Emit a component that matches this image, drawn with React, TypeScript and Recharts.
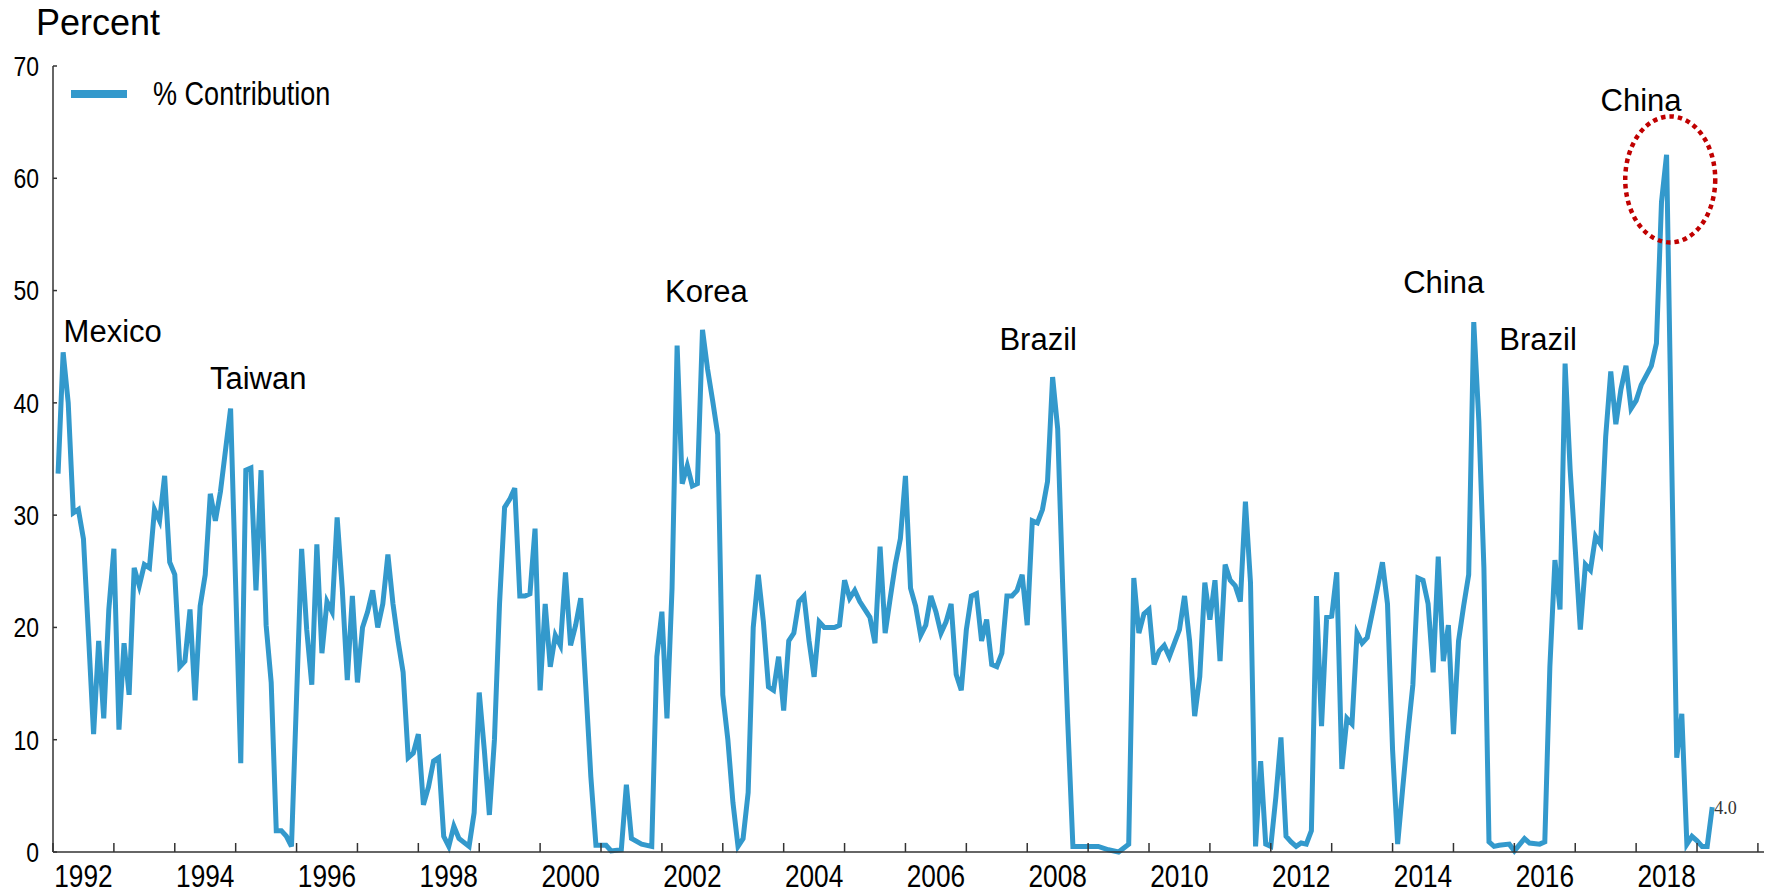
import React from "react";
import {
  LineChart,
  Line,
  XAxis,
  YAxis,
  Legend,
  ReferenceDot,
} from "recharts";

// months since Jan 1992 for each point
const monthIdx = [
  1, 2, 3, 4, 5, 6, 7, 8, 9, 10,
  11, 12, 13, 14, 15, 16, 17, 18, 19, 20,
  21, 22, 23, 24, 25, 26, 27, 28, 29, 30,
  31, 32, 33, 35, 37, 38, 39, 40, 41, 42,
  43, 44, 45, 46, 47, 49, 50, 51, 52, 53,
  54, 55, 56, 57, 58, 59, 60, 61, 62, 63,
  64, 65, 66, 67, 68, 69, 70, 71, 72, 73,
  74, 75, 76, 77, 78, 79, 80, 82, 83, 84,
  85, 86, 87, 88, 89, 90, 91, 92, 93, 94,
  95, 96, 97, 98, 99, 100, 101, 102, 103, 104,
  105, 106, 107, 109, 110, 112, 113, 114, 116, 118,
  119, 120, 121, 122, 123, 124, 125, 126, 127, 128,
  129, 130, 131, 132, 133, 134, 135, 136, 137, 138,
  139, 140, 141, 142, 143, 144, 145, 146, 147, 148,
  149, 150, 151, 152, 154, 155, 156, 157, 158, 159,
  161, 162, 163, 164, 165, 166, 167, 168, 169, 170,
  171, 172, 173, 174, 175, 176, 177, 178, 179, 180,
  181, 182, 183, 184, 185, 186, 187, 188, 189, 190,
  191, 192, 193, 194, 195, 196, 197, 198, 199, 200,
  201, 204, 206, 208, 210, 212, 213, 214, 215, 216,
  217, 218, 219, 220, 222, 223, 224, 225, 226, 227,
  228, 229, 230, 231, 232, 233, 234, 235, 236, 237,
  238, 239, 240, 241, 242, 243, 244, 245, 246, 247,
  248, 249, 250, 251, 252, 253, 254, 255, 256, 257,
  258, 259, 261, 262, 263, 264, 265, 266, 267, 268,
  269, 270, 271, 272, 273, 274, 275, 276, 277, 278,
  279, 280, 281, 282, 283, 284, 285, 287, 288, 290,
  291, 293, 294, 295, 296, 297, 298, 299, 300, 301,
  302, 303, 304, 305, 306, 307, 308, 309, 310, 311,
  312, 313, 315, 316, 317, 318, 320, 321, 322, 323,
  324, 325, 326, 327,
];

const contribution = [
  33.7, 44.5, 40.0, 30.2, 30.5, 27.9, 19.3, 10.5, 18.8, 11.9,
  21.6, 27.0, 10.9, 18.6, 14.0, 25.3, 23.7, 25.6, 25.3, 30.5,
  29.5, 33.5, 25.8, 24.7, 16.5, 17.0, 21.6, 13.5, 21.9, 24.7,
  31.9, 29.5, 32.1, 39.5, 7.9, 34.0, 34.2, 23.3, 34.0, 20.2,
  15.1, 1.9, 1.9, 1.4, 0.5, 27.0, 19.8, 14.9, 27.4, 17.7,
  22.3, 21.4, 29.8, 23.5, 15.3, 22.8, 15.1, 20.0, 21.4, 23.3,
  20.0, 22.1, 26.5, 22.1, 18.8, 16.0, 8.4, 8.8, 10.5, 4.2,
  5.8, 8.1, 8.4, 1.4, 0.5, 2.3, 1.2, 0.5, 3.5, 14.2,
  9.1, 3.3, 10.0, 22.1, 30.7, 31.4, 32.4, 22.8, 22.8, 23.0,
  28.8, 14.4, 22.1, 16.5, 19.3, 18.4, 24.9, 18.4, 20.2, 22.6,
  14.7, 6.7, 0.6, 0.6, 0.1, 0.2, 6.0, 1.2, 0.7, 0.5,
  17.4, 21.4, 11.9, 23.5, 45.1, 32.8, 34.4, 32.6, 32.8, 46.5,
  43.0, 40.2, 37.2, 14.0, 10.0, 4.4, 0.5, 1.2, 5.3, 20.0,
  24.7, 20.5, 14.7, 14.4, 17.4, 12.6, 18.8, 19.5, 22.3, 22.8,
  18.8, 15.6, 20.5, 20.0, 20.0, 20.2, 24.2, 22.6, 23.3, 22.3,
  20.9, 18.6, 27.2, 19.5, 22.6, 25.6, 27.9, 33.5, 23.5, 21.9,
  19.3, 20.2, 22.8, 21.4, 19.5, 20.5, 22.1, 15.8, 14.4, 19.8,
  22.8, 23.0, 18.8, 20.7, 16.7, 16.5, 17.7, 22.8, 22.8, 23.3,
  24.7, 20.2, 29.5, 29.3, 30.5, 33.0, 42.3, 37.7, 23.5, 11.4,
  0.5, 0.5, 0.5, 0.2, 0.0, 0.7, 24.4, 19.5, 21.2, 21.6,
  16.7, 17.9, 18.4, 17.4, 19.8, 22.8, 18.8, 12.1, 15.6, 24.0,
  20.7, 24.2, 17.0, 25.6, 24.2, 23.7, 22.3, 31.2, 24.0, 0.5,
  8.1, 0.7, 0.5, 4.9, 10.2, 1.4, 0.9, 0.5, 0.8, 0.7,
  1.9, 22.8, 11.2, 20.9, 21.0, 24.9, 7.4, 11.9, 11.4, 19.5,
  18.6, 19.1, 23.5, 25.8, 22.1, 9.1, 0.7, 5.7, 10.5, 14.9,
  24.4, 24.2, 22.1, 16.0, 26.3, 17.0, 20.2, 10.5, 18.8, 21.9,
  24.7, 47.2, 38.4, 25.3, 0.9, 0.5, 0.6, 0.7, 0.1, 1.2,
  0.8, 0.7, 0.9, 16.5, 26.0, 21.6, 43.5, 34.0, 27.0, 19.8,
  25.6, 25.1, 28.1, 27.4, 37.0, 42.8, 38.1, 41.2, 43.3, 39.5,
  40.2, 41.6, 43.3, 45.3, 57.9, 62.1, 8.4, 12.3, 0.7, 1.4,
  1.0, 0.5, 0.5, 4.0,
];

const yTicks = [0, 10, 20, 30, 40, 50, 60, 70];
const yearTicks = Array.from({ length: 29 }, (_, i) => 1992 + i); // 1992..2020
const labelYears = [1992, 1994, 1996, 1998, 2000, 2002, 2004, 2006, 2008, 2010, 2012, 2014, 2016, 2018];

// country call-outs (label anchor in years / percent)
const calloutNames = ["Mexico", "Taiwan", "Korea", "Brazil", "China", "Brazil", "China"];
const calloutYear = [1992.98, 1995.37, 2002.73, 2008.18, 2014.84, 2016.39, 2018.08];
const calloutPct = [45.4, 41.2, 49.0, 44.7, 49.8, 44.7, 66.0];

const SANS = "'Liberation Sans', Arial, Helvetica, sans-serif";
const SERIF = "'Liberation Serif', 'Times New Roman', serif";
const LINE = "#3399cc";
const AXIS = "#333";
const NARROW_SCALE = 0.82; // no Arial Narrow installed, squeeze Liberation Sans instead

const data = monthIdx.map((m, i) => ({ t: 1992 + m / 12, pct: contribution[i] }));
const last = data[data.length - 1];

const xTicks = [...yearTicks, ...labelYears.map((y) => y + 0.5)].sort((a, b) => a - b);

// condensed text, like Arial Narrow
const NarrowText = ({ x, y, size, anchor = "start", dy, children }: any) => (
  <text
    transform={`translate(${x},${y}) scale(${NARROW_SCALE},1)`}
    dy={dy}
    textAnchor={anchor}
    fontFamily={SANS}
    fontSize={size}
    fill="#000"
  >
    {children}
  </text>
);

const XTick = (props: any) => {
  const { x, y, payload } = props;
  const v = payload.value as number;
  if (Number.isInteger(v)) {
    return <line x1={x} x2={x} y1={y} y2={y - 9} stroke={AXIS} strokeWidth={1.5} />;
  }
  return (
    <NarrowText x={x} y={y + 35} size={32} anchor="middle">
      {Math.floor(v)}
    </NarrowText>
  );
};

const YTick = (props: any) => {
  const { x, y, payload } = props;
  return (
    <g>
      <line x1={x} x2={x + 4} y1={y} y2={y} stroke={AXIS} strokeWidth={1.5} />
      <NarrowText x={x - 14} y={y} dy="0.35em" size={28} anchor="end">
        {payload.value}
      </NarrowText>
    </g>
  );
};

const renderCallout = (props: any) => {
  const { viewBox, value } = props;
  return (
    <text x={viewBox.x} y={viewBox.y} textAnchor="middle" fontFamily={SANS} fontSize={31} fill="#000">
      {value}
    </text>
  );
};

const renderEndValue = (props: any) => {
  const { viewBox, value } = props;
  return (
    <text x={viewBox.x + 2} y={viewBox.y + 7} fontFamily={SERIF} fontSize={18} fill="#333">
      {value}
    </text>
  );
};

const renderLegend = () => (
  <svg width={320} height={44}>
    <line x1={11} x2={67} y1={20} y2={20} stroke={LINE} strokeWidth={8} />
    <NarrowText x={93} y={31} size={33}>
      % Contribution
    </NarrowText>
  </svg>
);

export default function App() {
  return (
    <div style={{ position: "absolute", left: 0, top: 0, background: "#fff" }}>
      <LineChart width={1781} height={893} data={data} margin={{ top: 66, right: 17, bottom: 0, left: 0 }}>
        <XAxis
          dataKey="t"
          type="number"
          domain={[1992, 2020.1]}
          ticks={xTicks}
          interval={0}
          height={41}
          tickSize={0}
          tickMargin={0}
          tick={XTick}
          axisLine={{ stroke: AXIS, strokeWidth: 1.5 }}
        />
        <YAxis
          type="number"
          domain={[0, 70]}
          ticks={yTicks}
          interval={0}
          width={53}
          tickSize={0}
          tickMargin={0}
          tick={YTick}
          axisLine={{ stroke: AXIS, strokeWidth: 1.5 }}
          label={(p: any) => (
            <text x={p.viewBox.x + 36} y={p.viewBox.y - 31} fontFamily={SANS} fontSize={36} fill="#000">
              Percent
            </text>
          )}
        />
        <Legend
          layout="horizontal"
          verticalAlign="middle"
          align="center"
          wrapperStyle={{ left: 60, top: 74, width: 320, height: 44 }}
          content={renderLegend}
        />
        <Line
          type="linear"
          dataKey="pct"
          name="% Contribution"
          stroke={LINE}
          strokeWidth={5}
          dot={false}
          activeDot={false}
          isAnimationActive={false}
        />
        {calloutNames.map((name, i) => (
          <ReferenceDot
            key={`${name}-${i}`}
            x={calloutYear[i]}
            y={calloutPct[i]}
            r={0}
            fill="none"
            stroke="none"
            label={{ value: name, content: renderCallout }}
          />
        ))}
        <ReferenceDot
          x={2018.56}
          y={59.9}
          r={0}
          shape={(p: any) => (
            <ellipse
              cx={p.cx}
              cy={p.cy}
              rx={45}
              ry={63}
              fill="none"
              stroke="#c00000"
              strokeWidth={4.5}
              strokeDasharray="4.5 4"
            />
          )}
        />
        <ReferenceDot
          x={last.t}
          y={last.pct}
          r={0}
          fill="none"
          stroke="none"
          label={{ value: last.pct.toFixed(1), content: renderEndValue }}
        />
      </LineChart>
    </div>
  );
}
